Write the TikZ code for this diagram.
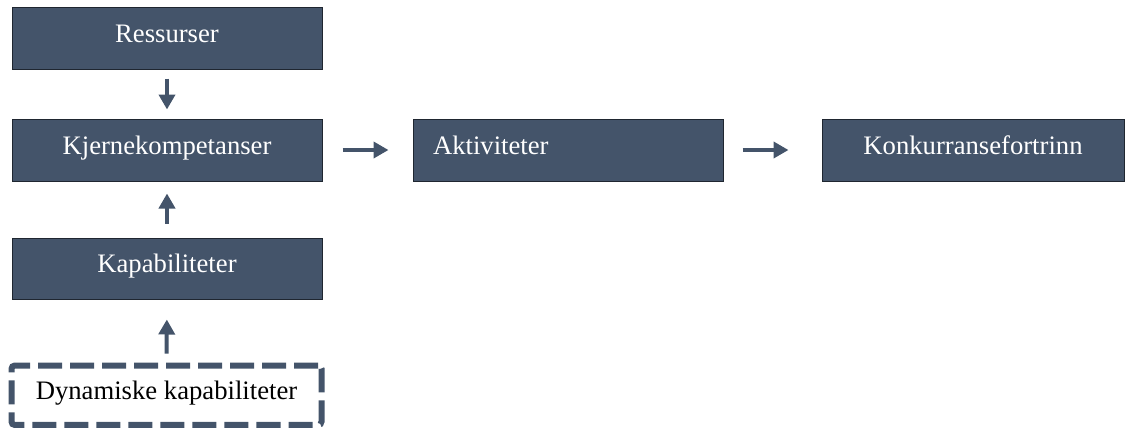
\documentclass[tikz,border=0pt]{standalone}
\usepackage{fontspec}
\setmainfont{Liberation Serif}
\usetikzlibrary{arrows.meta}
\definecolor{boxfill}{HTML}{44546A}
\definecolor{boxline}{HTML}{1F2630}
\tikzset{
  box/.style={draw=boxline, line width=0.75pt, fill=boxfill, text=white,
    minimum height=46.5pt, inner sep=0pt, font=\fontsize{20pt}{24pt}\selectfont,
    text height=0.8em, text depth=0.2em},
  dynbox/.style={draw=boxfill, line width=4.5pt, dash pattern=on 18pt off 6pt,
    rounded corners=2.5pt, text=black, minimum width=232.5pt, minimum height=44.6pt,
    inner sep=0pt, font=\fontsize{20pt}{24pt}\selectfont,
    text height=0.8em, text depth=0.2em},
  arr/.style={draw=boxfill, line width=3pt, -{Triangle[length=11.25pt,width=12pt]}}
}
\begin{document}
\begin{tikzpicture}[x=0.75pt,y=-0.75pt]
\useasboundingbox (0,0) rectangle (1126,429);
\node[box, minimum width=232.5pt] (R) at (167,38) {Ressurser};
\node[box, minimum width=232.5pt] (K) at (167,150) {Kjernekompetanser};
\node[box, minimum width=232.5pt, minimum height=45.75pt] (Kap) at (167,268.5) {Kapabiliteter};
\node[dynbox] (D) at (166.5,395.25) {Dynamiske kapabiliteter};
\node[box, minimum width=232.5pt, text width=202.5pt, align=left] (A) at (568,150) {Aktiviteter};
\node[box, minimum width=226.5pt] (KF) at (973,150) {Konkurransefortrinn};
\draw[arr, shorten <=6.75pt, shorten >=6.75pt] (R.south) -- (K.north);
\draw[arr, shorten <=10.5pt, shorten >=9pt] (Kap.north) -- (K.south);
\draw[arr, shorten <=6.75pt, shorten >=15pt] (D.north) -- (Kap.south);
\draw[arr, shorten <=15pt, shorten >=18pt] (K.east) -- (A.west);
\draw[arr, shorten <=14.25pt, shorten >=24.75pt] (A.east) -- (KF.west);
\end{tikzpicture}
\end{document}
